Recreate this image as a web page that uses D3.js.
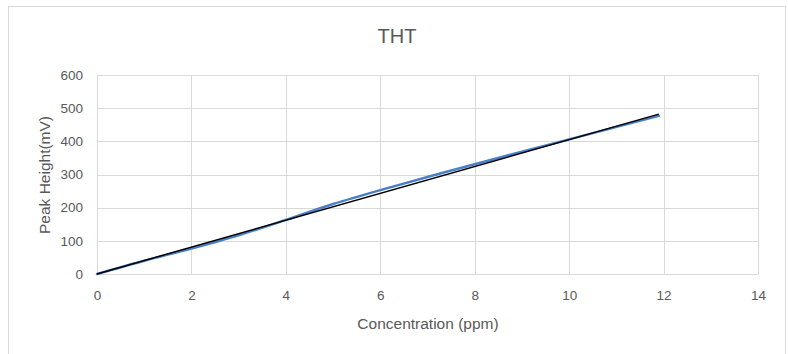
<!DOCTYPE html>
<html>
<head>
<meta charset="utf-8">
<script src="https://cdn.jsdelivr.net/npm/d3@7"></script>
<style>
  html, body { margin: 0; padding: 0; background: #fff; }
  svg { display: block; }
  text { font-family: "Liberation Sans", Arial, sans-serif; fill: #595959; }
</style>
</head>
<body>
<svg id="chart" width="788" height="354"></svg>
<script>
// ---- data ----
const chartTitle = "THT";
const xAxisTitle = "Concentration (ppm)";
const yAxisTitle = "Peak Height(mV)";
const xTicks = [0, 2, 4, 6, 8, 10, 12, 14];
const yTicks = [0, 100, 200, 300, 400, 500, 600];
const concentration = [0, 1, 2, 3, 4, 5, 6, 8, 10, 11.9];
const peakHeight = [0, 40, 77, 117, 163, 211, 253, 331, 406, 477];
const trendX = [0, 11.9];
const trendY = [0, 482];

// ---- layout ----
const svg = d3.select("#chart");
const plot = { left: 97, right: 758, top: 75, bottom: 274 };

const x = d3.scaleLinear().domain([0, 14]).range([plot.left, plot.right]);
const y = d3.scaleLinear().domain([0, 600]).range([plot.bottom, plot.top]);

// chart border
svg.append("rect")
  .attr("x", 8.5).attr("y", 6.5)
  .attr("width", 777).attr("height", 360)
  .attr("fill", "#fff").attr("stroke", "#d9d9d9").attr("stroke-width", 1);

// gridlines
svg.append("g").selectAll("line").data(yTicks).join("line")
  .attr("x1", plot.left).attr("x2", plot.right)
  .attr("y1", d => Math.round(y(d)) + 0.5).attr("y2", d => Math.round(y(d)) + 0.5)
  .attr("stroke", "#d9d9d9").attr("stroke-width", 1);
svg.append("g").selectAll("line").data(xTicks).join("line")
  .attr("y1", plot.top).attr("y2", plot.bottom)
  .attr("x1", d => Math.round(x(d)) + 0.5).attr("x2", d => Math.round(x(d)) + 0.5)
  .attr("stroke", "#d9d9d9").attr("stroke-width", 1);

// axes (labels only)
const yAxis = d3.axisLeft(y).tickValues(yTicks).tickSize(0).tickPadding(14);
const gy = svg.append("g").attr("transform", `translate(${plot.left},0)`).call(yAxis);
gy.select(".domain").remove();
gy.selectAll("text").style("font-size", "13.5px").attr("fill", "#595959")
  .style("font-family", '"Liberation Sans", Arial, sans-serif');

const xAxis = d3.axisBottom(x).tickValues(xTicks).tickSize(0).tickPadding(16);
const gx = svg.append("g").attr("transform", `translate(0,${plot.bottom})`).call(xAxis);
gx.select(".domain").attr("stroke", "#d9d9d9");
gx.selectAll("text").style("font-size", "13.5px").attr("fill", "#595959")
  .style("font-family", '"Liberation Sans", Arial, sans-serif');

// series
const data = concentration.map((c, i) => [c, peakHeight[i]]);
const line = d3.line().x(d => x(d[0])).y(d => y(d[1])).curve(d3.curveCatmullRom.alpha(0.5));
svg.append("path").datum(data)
  .attr("d", line)
  .attr("fill", "none").attr("stroke", "#4a7fc8").attr("stroke-width", 2.5)
  .attr("stroke-linecap", "round");

// trendline
const trend = trendX.map((c, i) => [c, trendY[i]]);
svg.append("path").datum(trend)
  .attr("d", d3.line().x(d => x(d[0])).y(d => y(d[1])))
  .attr("fill", "none").attr("stroke", "#000").attr("stroke-width", 1.5);

// titles
svg.append("text").attr("x", 397).attr("y", 43)
  .attr("text-anchor", "middle").style("font-size", "20px").text(chartTitle);
svg.append("text").attr("x", 428).attr("y", 329)
  .attr("text-anchor", "middle").style("font-size", "15.5px").text(xAxisTitle);
svg.append("text")
  .attr("transform", "translate(50,175) rotate(-90)")
  .attr("text-anchor", "middle").style("font-size", "15.5px").text(yAxisTitle);
</script>
</body>
</html>
